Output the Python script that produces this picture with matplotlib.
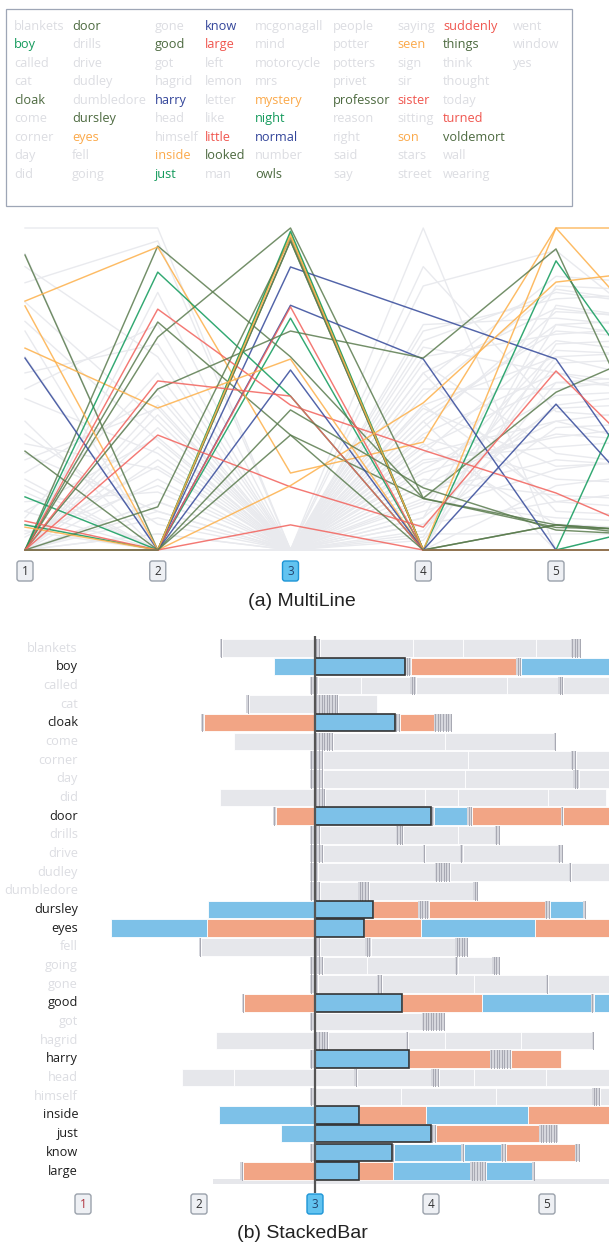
import matplotlib
matplotlib.use("Agg")
import matplotlib.pyplot as plt
from matplotlib.patches import Rectangle, FancyBboxPatch

# ---------------- data ----------------
WORDS = ["blankets", "boy", "called", "cat", "cloak", "come", "corner", "day", "did",
         "door", "drills", "drive", "dudley", "dumbledore", "dursley", "eyes", "fell", "going",
         "gone", "good", "got", "hagrid", "harry", "head", "himself", "inside", "just",
         "know", "large", "left", "lemon", "letter", "like", "little", "looked", "man",
         "mcgonagall", "mind", "motorcycle", "mrs", "mystery", "night", "normal", "number", "owls",
         "people", "potter", "potters", "privet", "professor", "reason", "right", "said", "say",
         "saying", "seen", "sign", "sir", "sister", "sitting", "son", "stars", "street",
         "suddenly", "things", "think", "thought", "today", "turned", "voldemort", "wall", "wearing",
         "went", "window", "yes"]

HIGHLIGHT = {"boy": "green", "cloak": "olive", "door": "olive", "dursley": "olive",
             "eyes": "orange", "good": "olive", "harry": "blue", "inside": "orange",
             "just": "green", "know": "blue", "large": "red", "little": "red",
             "looked": "olive", "mystery": "orange", "night": "green", "normal": "blue",
             "owls": "olive", "professor": "olive", "seen": "orange", "sister": "red",
             "son": "orange", "suddenly": "red", "things": "olive", "turned": "red",
             "voldemort": "olive"}

PERIODS = ["1", "2", "3", "4", "5", "6"]
SELECTED_PERIOD = "3"

# MultiLine values per period (1..6)
ML_COLORED = {
    "boy": [16.5, 0, 72, 0, 89.8, 32], "cloak": [91.6, 0, 96, 0, 0, 0],
    "door": [0, 94.4, 60, 16, 7, 6], "dursley": [0, 70.8, 35.7, 16, 7.8, 5],
    "eyes": [77.3, 94.1, 23.9, 33.5, 100, 100], "good": [0, 66.1, 100, 16.1, 49, 67],
    "harry": [59.6, 0, 87.9, 73.6, 59.3, 0], "inside": [75.8, 0, 98.4, 0, 100, 54],
    "just": [7.8, 0, 99, 0, 0, 90], "know": [0, 0, 76, 59.3, 0, 0],
    "large": [9, 0, 75.5, 0, 0, 0], "little": [0, 74.8, 45, 31, 17.7, 0],
    "looked": [30.7, 0, 96, 0, 7.8, 5], "mystery": [62.7, 44.1, 59.3, 0, 0, 0],
    "night": [0, 86.3, 47.8, 0, 0, 10], "normal": [0, 0, 55.9, 0, 45.3, 0],
    "owls": [0, 50, 68, 59.6, 93.5, 5], "professor": [0, 13.4, 97, 0, 7.8, 3],
    "seen": [7.1, 0, 97.5, 0, 0, 0], "sister": [0, 35.7, 19.6, 7.1, 55.6, 15],
    "son": [0, 0, 20, 45.7, 83.2, 88], "suddenly": [0, 52.5, 47.8, 0, 0, 0],
    "things": [0, 0, 43.5, 19.3, 6.2, 4], "turned": [0, 0, 7.8, 0, 0, 0],
    "voldemort": [0, 0, 35.7, 0, 0, 0],
}
ML_GRAY = {
    "blankets": [100, 100, 0, 45, 60, 50], "called": [88, 60, 0, 55, 75, 70],
    "cat": [83, 96, 0, 20, 40, 30], "come": [77, 40, 0, 63, 55, 45],
    "corner": [71, 34, 0, 30, 65, 60], "day": [55, 64, 0, 40, 70, 65],
    "did": [47, 30, 0, 58, 30, 25], "drills": [33, 25, 0, 100, 0, 10],
    "drive": [24, 48, 0, 36, 55, 50], "dudley": [15, 18, 0, 82, 93, 60],
    "dumbledore": [10, 55, 0, 48, 81, 75], "fell": [5, 20, 0, 27, 35, 40],
    "going": [0, 80, 0, 12, 25, 30], "gone": [0, 28, 0, 68, 78, 80],
    "got": [0, 10, 0, 50, 50, 55], "hagrid": [92, 0, 0, 0, 76, 70],
    "head": [68, 0, 0, 70, 72, 68], "himself": [60, 0, 0, 52, 85, 82],
    "left": [40, 0, 0, 20, 62, 60], "lemon": [0, 45, 0, 10, 45, 50],
    "letter": [0, 38, 0, 35, 22, 20], "like": [30, 12, 0, 15, 10, 8],
    "man": [20, 0, 0, 25, 48, 50], "mcgonagall": [12, 35, 0, 45, 15, 20],
    "mind": [0, 0, 0, 60, 67, 70], "motorcycle": [0, 0, 0, 88, 43, 40],
    "mrs": [50, 70, 0, 5, 5, 5], "number": [0, 15, 0, 42, 68, 65],
    "people": [0, 22, 0, 8, 38, 40], "potter": [36, 8, 0, 32, 52, 55],
    "potters": [0, 5, 0, 18, 28, 25], "privet": [8, 0, 0, 38, 74, 72],
    "reason": [0, 0, 0, 6, 58, 60], "right": [0, 50, 0, 0, 20, 25],
    "said": [28, 44, 0, 55, 12, 10], "say": [0, 0, 0, 28, 32, 35],
    "saying": [18, 0, 0, 14, 60, 62], "sign": [0, 32, 0, 0, 64, 66],
    "sir": [0, 0, 0, 22, 17, 15], "sitting": [12, 0, 0, 10, 82, 80],
    "stars": [0, 42, 0, 33, 8, 6], "street": [0, 15, 0, 65, 80, 75],
    "think": [0, 0, 0, 44, 26, 28], "thought": [4, 26, 0, 4, 70, 72],
    "today": [0, 0, 0, 16, 44, 46], "wall": [22, 0, 0, 3, 52, 50],
    "wearing": [0, 5, 0, 24, 36, 33], "went": [6, 0, 0, 30, 40, 45],
    "window": [0, 12, 0, 40, 0, 0], "yes": [0, 0, 0, 8, 15, 12],
}

# StackedBar: segment values outward from the selected period (0 = empty period)
SB_WORDS = WORDS[:29]
SB_LEFT = {
    "blankets": [8.0, 0], "boy": [3.5], "called": [0, 0], "cat": [5.7, 0],
    "cloak": [9.6, 0], "come": [7.0], "corner": [0, 0], "day": [0, 0], "did": [8.2],
    "door": [3.4, 0], "drills": [0, 0], "drive": [0, 0], "dudley": [0, 0],
    "dumbledore": [0, 0], "dursley": [9.2], "eyes": [9.3, 8.3], "fell": [9.8, 0],
    "going": [0, 0], "gone": [0, 0], "good": [6.1, 0], "got": [0, 0], "hagrid": [8.5],
    "harry": [0, 0], "head": [7.0, 4.5], "himself": [0, 0], "inside": [8.3],
    "just": [2.9], "know": [0, 0], "large": [6.2, 0],
}
SB_RIGHT = {
    "blankets": [0, 0, 8.0, 4.3, 6.3, 3.0, 0, 0, 0, 0],
    "boy": [7.8, 0, 0, 9.1, 0, 0, 10],
    "called": [0, 3.7, 4.3, 0, 0, 7.9, 4.4, 0, 0, 5],
    "cat": [0, 0, 0, 0, 0, 0, 0, 0, 0, 3.3],
    "cloak": [6.9, 0, 0, 2.9, 0, 0, 0, 0, 0, 0, 0],
    "come": [0, 0, 0, 0, 0, 0, 0, 9.6, 9.4, 0],
    "corner": [0, 0, 0, 12.5, 8.9, 0, 0, 5],
    "day": [0, 0, 0, 12.3, 9.3, 0, 0, 5],
    "did": [0, 0, 0, 0, 8.6, 2.8, 7.8, 5],
    "door": [10.0, 0, 2.9, 0, 0, 7.6, 0, 5],
    "drills": [0, 0, 6.5, 0, 0, 0, 4.7, 3.2, 0, 0],
    "drive": [0, 0, 0, 8.6, 0, 3.0, 0, 8.2, 0, 0],
    "dudley": [0, 10.1, 0, 0, 0, 0, 0, 0, 10.2, 0, 5],
    "dumbledore": [0, 0, 3.3, 0, 0, 0, 0, 9.0, 0, 0],
    "dursley": [5.0, 3.9, 0, 0, 0, 0, 10.0, 0, 0, 2.9, 0],
    "eyes": [4.2, 4.9, 9.9, 8],
    "fell": [0, 0, 3.9, 0, 0, 7.3, 0, 0, 0, 0, 0],
    "going": [0, 0, 0, 3.8, 7.6, 0, 3.0, 0, 0, 0],
    "gone": [0, 5.1, 0, 0, 7.9, 6.2, 0, 6],
    "good": [7.5, 6.9, 9.4, 0, 3],
    "got": [9.2, 0, 0, 0, 0, 0, 0, 0, 0, 0],
    "hagrid": [0, 0, 0, 0, 0, 6.7, 0, 3.2, 6.5, 6.1, 0],
    "harry": [8.1, 7.0, 0, 0, 0, 0, 0, 0, 0, 0, 4.3],
    "head": [3.4, 0, 6.4, 0, 0, 0, 3.0, 6.2, 6],
    "himself": [7.4, 8.2, 8.3, 0, 0, 0, 2],
    "inside": [3.8, 5.8, 8.8, 7],
    "just": [10.0, 0, 0, 8.9, 0, 0, 0, 0, 0, 0, 0],
    "know": [6.6, 0, 5.8, 0, 3.2, 0, 0, 5.9, 0, 0],
    "large": [3.8, 2.9, 6.7, 0, 0, 0, 0, 0, 0, 4.0, 0],
}
# colour category of each non-empty segment for highlighted words (b = blue, o = orange)
SB_LEFT_CAT = {"boy": "b", "cloak": "o", "door": "o", "dursley": "b", "eyes": "ob",
               "good": "o", "inside": "b", "just": "b", "large": "o"}
SB_RIGHT_CAT = {"boy": "bob", "cloak": "bo", "door": "bboo", "dursley": "boob",
                "eyes": "bobo", "good": "bobb", "harry": "boo", "inside": "bobo",
                "just": "bo", "know": "bbbo", "large": "bobb"}

# ---------------- style ----------------
LINE_COLORS = {"olive": "#5b7c4f", "green": "#0f9a5a", "blue": "#34499a",
               "red": "#f2625c", "orange": "#fdb04a"}
TEXT_COLORS = {"olive": "#4d6a40", "green": "#149a5c", "blue": "#33459a",
               "red": "#f0564f", "orange": "#fba94a"}
GRAY_TEXT = "#dcdde2"
GRAY_LINE = "#e9eaee"
BAR_COLORS = {"b": "#7dc1e8", "o": "#f2a585", "g": "#e6e7eb"}
STUB_FILL = "#d6d7dd"
STUB_LINE = "#a7a8b2"

W, H = 609, 1245
fig = plt.figure(figsize=(W / 100, H / 100), dpi=100)
TXT_FONT = ["Open Sans", "DejaVu Sans"]
TITLE_FONT = ["Liberation Sans", "DejaVu Sans"]


def px_axes(x0, y0, x1, y1, z=1):
    ax = fig.add_axes([x0 / W, 1 - y1 / H, (x1 - x0) / W, (y1 - y0) / H])
    ax.set_zorder(z)
    return ax


overlay = px_axes(0, 0, W, H, z=5)
overlay.set_xlim(0, W)
overlay.set_ylim(H, 0)
overlay.axis("off")
overlay.patch.set_alpha(0)

# ---------------- legend ----------------
overlay.add_patch(Rectangle((5.5, 8.5), 566.5, 197, fill=False, ec="#9ea6b6", lw=0.9))
col_x = [14, 72, 155, 205, 255, 333, 397, 443, 513]
for i, w in enumerate(WORDS):
    c, r = divmod(i, 9)
    color = TEXT_COLORS[HIGHLIGHT[w]] if w in HIGHLIGHT else GRAY_TEXT
    overlay.text(col_x[c], 26.5 + r * 18.45, w, color=color, fontsize=9.2,
                 family=TXT_FONT, ha="left", va="center")

# ---------------- buttons ----------------

def button(cx, cy, label, active=False, tcolor="#333333"):
    w, h = 16, 20
    fc = "#62c3f0" if active else "#eef0f4"
    ec = "#1d95d6" if active else "#9aa1ab"
    overlay.add_patch(FancyBboxPatch((cx - w / 2, cy - h / 2), w, h,
                                     boxstyle="round,pad=0,rounding_size=2.5",
                                     fc=fc, ec=ec, lw=1.0))
    overlay.text(cx, cy + 0.5, label, ha="center", va="center", fontsize=8.5,
                 color="#23436e" if active else tcolor, family=TXT_FONT)


# ---------------- MultiLine ----------------
PT1_PX, STEP_PX = 25, 132.75
Y0_PX, YTOP_PX = 550, 228
ml_left, ml_right, ml_top, ml_bot = 18, 609, 224, 554
ml = px_axes(ml_left, ml_top, ml_right, ml_bot)
ml.set_xlim(1 - (PT1_PX - ml_left) / STEP_PX, 1 + (ml_right - PT1_PX) / STEP_PX)
sc = 100 / (Y0_PX - YTOP_PX)
ml.set_ylim(-(ml_bot - Y0_PX) * sc, 100 + (YTOP_PX - ml_top) * sc)
ml.axis("off")
xs = list(range(1, len(PERIODS) + 1))
for w, vals in ML_GRAY.items():
    ml.plot(xs, vals, color=GRAY_LINE, lw=1.0, zorder=1)
for w, vals in ML_COLORED.items():
    ml.plot(xs, vals, color=LINE_COLORS[HIGHLIGHT[w]], lw=1.05, alpha=0.85, zorder=2)

for i, p in enumerate(PERIODS[:5]):
    button(PT1_PX + i * STEP_PX, 571, p, active=(p == SELECTED_PERIOD))
overlay.text(302, 602, "(a) MultiLine", ha="center", va="center", fontsize=14,
             color="#222222", family=TITLE_FONT)

# ---------------- StackedBar ----------------
CENTER_PX, UNIT_PX = 315, 11.6
ROW0_PX, ROW_PX = 648, 18.68
ZW = 2.6 / UNIT_PX   # width of an empty period marker
sb_l, sb_r, sb_t, sb_b = 100, 609, 636, 1193
sb = px_axes(sb_l, sb_t, sb_r, sb_b)
sb.set_xlim((sb_l - CENTER_PX) / UNIT_PX, (sb_r - CENTER_PX) / UNIT_PX)
sb.set_ylim((sb_b - ROW0_PX) / ROW_PX, (sb_t - ROW0_PX) / ROW_PX)
sb.axis("off")
BH = 0.94


def draw_side(y, vals, cats, direction, highlighted, outline_first):
    pos = 0.0
    k = 0
    for j, v in enumerate(vals):
        if v == 0:
            x0 = pos if direction > 0 else pos - ZW
            sb.add_patch(Rectangle((x0, y - BH / 2), ZW, BH, fc=STUB_FILL, ec="none", zorder=2))
            sb.plot([x0 + ZW / 2] * 2, [y - BH / 2, y + BH / 2], color=STUB_LINE, lw=0.7, zorder=3)
            pos += direction * ZW
            continue
        cat = cats[k] if highlighted else "g"
        k += 1
        x0 = pos if direction > 0 else pos - v
        outlined = outline_first and j == 0
        sb.add_patch(Rectangle((x0, y - BH / 2), v, BH, fc=BAR_COLORS[cat],
                               ec="#333333" if outlined else "white",
                               lw=1.2 if outlined else 0.6, zorder=4 if outlined else 2))
        pos += direction * v


for i, w in enumerate(SB_WORDS):
    hl = w in HIGHLIGHT
    draw_side(i, SB_LEFT[w], SB_LEFT_CAT.get(w, ""), -1, hl, False)
    draw_side(i, SB_RIGHT[w], SB_RIGHT_CAT.get(w, ""), 1, hl, hl)
    overlay.text(78, ROW0_PX + i * ROW_PX, w, ha="right", va="center", fontsize=9.2,
                 color="#1e1e1e" if hl else GRAY_TEXT, family=TXT_FONT)

# scroll strip under the rows
SCROLL_LEFT = (213 - CENTER_PX) / UNIT_PX
sb.add_patch(Rectangle((SCROLL_LEFT, len(SB_WORDS) - 0.55), 40, 0.22, fc="#e6e7eb", ec="none"))
sb.axvline(0, color="#555555", lw=1.6, zorder=6)

for i, p in enumerate(PERIODS[:5]):
    button(CENTER_PX + (i - 2) * 116, 1204, p, active=(p == SELECTED_PERIOD),
           tcolor="#b0323e" if i == 0 else "#333333")
overlay.text(302, 1233, "(b) StackedBar", ha="center", va="center", fontsize=14,
             color="#222222", family=TITLE_FONT)

fig.savefig("out.png", dpi=100)
